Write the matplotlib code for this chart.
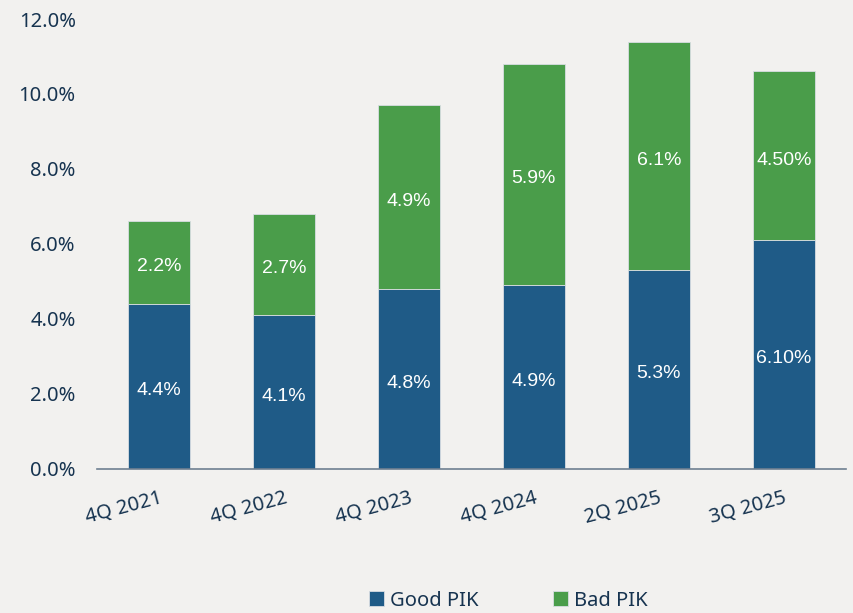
import matplotlib.pyplot as plt
import numpy as np

periods = ['4Q 2021', '4Q 2022', '4Q 2023', '4Q 2024', '2Q 2025', '3Q 2025']
good_pik = [4.4, 4.1, 4.8, 4.9, 5.3, 6.1]
bad_pik = [2.2, 2.7, 4.9, 5.9, 6.1, 4.5]
good_labels = ['4.4%', '4.1%', '4.8%', '4.9%', '5.3%', '6.10%']
bad_labels = ['2.2%', '2.7%', '4.9%', '5.9%', '6.1%', '4.50%']

BG = '#f2f1ef'
BLUE = '#1f5b87'
GREEN = '#4a9d4a'
NAVY = '#173450'

fig = plt.figure(figsize=(8.54, 6.13), dpi=100, facecolor=BG)
ax = fig.add_axes([0.113, 0.235, 0.878, 0.734], facecolor=BG)

x = np.arange(len(periods))
b1 = ax.bar(x, good_pik, width=0.5, color=BLUE, edgecolor='#d8dde2', linewidth=0.6, label='Good PIK')
b2 = ax.bar(x, bad_pik, width=0.5, bottom=good_pik, color=GREEN, edgecolor='#d8dde2', linewidth=0.6, label='Bad PIK')

# segment labels, nudged a little below centre like the original
for i in range(len(periods)):
    ax.annotate(good_labels[i], (x[i], good_pik[i] / 2), xytext=(0, -3), textcoords='offset points',
                ha='center', va='center', color='white', fontsize=14, family='Liberation Sans')
    ax.annotate(bad_labels[i], (x[i], good_pik[i] + bad_pik[i] / 2), xytext=(0, -3), textcoords='offset points',
                ha='center', va='center', color='white', fontsize=14, family='Liberation Sans')

ax.set_xlim(-0.5, len(periods) - 0.5)
ax.set_ylim(0, 12)
ax.set_yticks(np.arange(0, 12.1, 2))
ax.set_yticklabels([f'{v:.1f}%' for v in np.arange(0, 12.1, 2)])
ax.set_xticks(x)
ax.set_xticklabels(periods, rotation=15, ha='right', rotation_mode='anchor')

for s in ['top', 'right', 'left']:
    ax.spines[s].set_visible(False)
ax.spines['bottom'].set_color('#6f8091')
ax.spines['bottom'].set_linewidth(1.2)
ax.tick_params(axis='both', length=0, labelsize=14.5, labelcolor=NAVY, labelfontfamily='Noto Sans')
ax.tick_params(axis='y', pad=15)
ax.tick_params(axis='x', pad=14)

fig.legend(handles=[b1, b2], loc='center', bbox_to_anchor=(0.595, 0.02), ncol=2, frameon=False,
           labelcolor=NAVY, prop={'family': 'Noto Sans', 'size': 14.5},
           handlelength=0.75, handleheight=0.75, handletextpad=0.3, columnspacing=3.7)

fig.savefig('out.png', dpi=100, facecolor=BG)
